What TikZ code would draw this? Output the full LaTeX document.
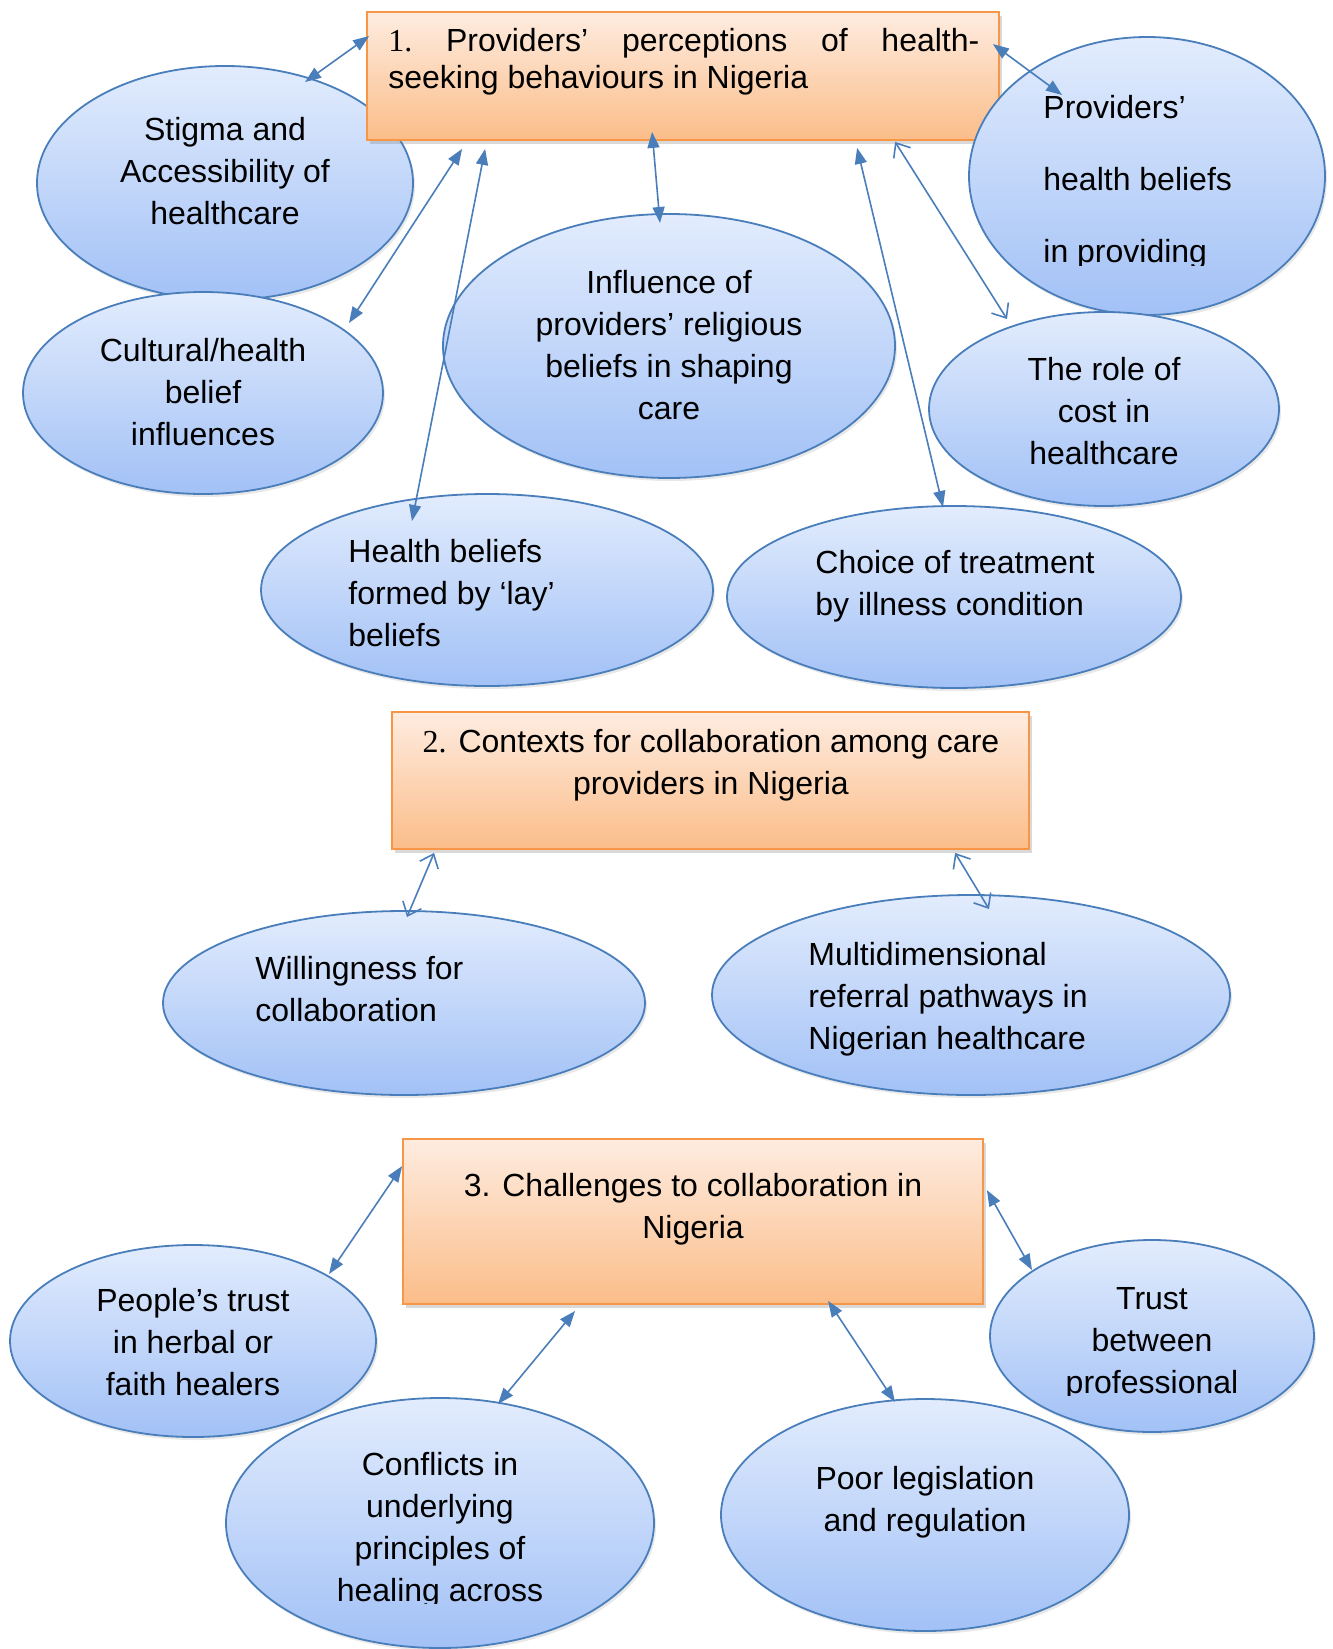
\documentclass[tikz,border=0pt]{standalone}
\usepackage{fontspec}
\setmainfont{Liberation Sans}
\newfontfamily\serifnum{Liberation Serif}
\usetikzlibrary{shapes.geometric,arrows.meta,calc,shadows}
\definecolor{ellline}{HTML}{4A7EBB}
\definecolor{elltop}{HTML}{E2ECFD}
\definecolor{ellbot}{HTML}{A2C1F6}
\definecolor{boxline}{HTML}{F79646}
\definecolor{boxtop}{HTML}{FEECE0}
\definecolor{boxbot}{HTML}{FBBD89}
\definecolor{arr}{HTML}{4A7EBB}
\begin{document}
\begin{tikzpicture}[x=0.5pt,y=-0.5pt,
  ell/.style={ellipse, draw=ellline, line width=0.9pt, top color=elltop, bottom color=ellbot, inner sep=0pt,
    drop shadow={opacity=0.18, shadow xshift=1pt, shadow yshift=-1.5pt}},
  bx/.style={rectangle, draw=boxline, line width=0.9pt, top color=boxtop, bottom color=boxbot, inner sep=0pt,
    drop shadow={opacity=0.3, shadow xshift=1.5pt, shadow yshift=-2pt}},
  txt/.style={font=\fontsize{16}{21}\selectfont, inner sep=0pt},
  ctxt/.style={txt, align=center, anchor=base},
  ltxt/.style={txt, align=left, anchor=base west},
  dblf/.style={draw=arr, line width=0.8pt, {Triangle[length=8pt,width=6pt]}-{Triangle[length=8pt,width=6pt]}},
  dblo/.style={draw=arr, line width=0.8pt, {Straight Barb[length=6pt,width=10pt]}-{Straight Barb[length=6pt,width=10pt]}},
]
\useasboundingbox (0,0) rectangle (1333,1649);

% (text nodes are anchored at the baseline of their last line)
% ---------- group 1 ----------
\node[ell, minimum width=188pt, minimum height=117pt] (stigma) at (225,183) {};
\node[ctxt] (tstigma) at (225,224) {Stigma and\\Accessibility of\\healthcare};

\node[bx, minimum width=316pt, minimum height=64pt] (b1) at (683,76) {};
\node[ltxt, font=\fontsize{16}{18.5}\selectfont] (tb1) at (388,88)
  {\makebox[295.5pt]{{\serifnum 1.}\hfill Providers’\hfill perceptions\hfill of\hfill health-}\\seeking behaviours in Nigeria};

\node[ell, minimum width=178pt, minimum height=139pt] (prov) at (1147,176) {};
\begin{scope}
  \clip (1000,60) rectangle (1320,265);
  \node[ltxt, font=\fontsize{16}{36}\selectfont] (tprov) at (1043,262) {Providers’\\health beliefs\\in providing};
\end{scope}

\node[ell, minimum width=180pt, minimum height=101pt] (cult) at (203,393) {};
\node[ctxt] (tcult) at (203,445) {Cultural/health\\belief\\influences};

\node[ell, minimum width=226pt, minimum height=132pt] (infl) at (669,346) {};
\node[ctxt] (tinfl) at (669,419) {Influence of\\providers’ religious\\beliefs in shaping\\care};

\node[ell, minimum width=175pt, minimum height=97pt] (cost) at (1104,409) {};
\node[ctxt] (tcost) at (1104,464) {The role of\\cost in\\healthcare};

\node[ell, minimum width=226pt, minimum height=96pt] (lay) at (487,590) {};
\begin{scope}
  \clip (300,500) rectangle (700,648);
  \node[ltxt] (tlay) at (348,646) {Health beliefs\\formed by ‘lay’\\beliefs};
\end{scope}

\node[ell, minimum width=227pt, minimum height=91pt] (choice) at (954,597) {};
\node[ltxt] (tchoice) at (815,615) {Choice of treatment\\by illness condition};

% ---------- group 2 ----------
\node[bx, minimum width=318.5pt, minimum height=68.5pt] (b2) at (710.5,780.5) {};
\node[ctxt] (tb2) at (711,794) {{\serifnum 2.} Contexts for collaboration among care\\providers in Nigeria};

\node[ell, minimum width=241pt, minimum height=92pt] (will) at (404,1003) {};
\node[ltxt] (twill) at (255,1021) {Willingness for\\collaboration};

\node[ell, minimum width=259pt, minimum height=100pt] (multi) at (971,995) {};
\node[ltxt] (tmulti) at (808,1049) {Multidimensional\\referral pathways in\\Nigerian healthcare};

% ---------- group 3 ----------
\node[bx, minimum width=290pt, minimum height=82.5pt] (b3) at (693,1221.5) {};
\node[ctxt] (tb3) at (693,1238) {3. Challenges to collaboration in\\Nigeria};

\node[ell, minimum width=183pt, minimum height=96pt] (people) at (193,1341) {};
\node[ctxt] (tpeople) at (193,1395) {People’s trust\\in herbal or\\faith healers};

\node[ell, minimum width=162pt, minimum height=96pt] (trust) at (1152,1336) {};
\begin{scope}
  \clip (1000,1260) rectangle (1310,1395);
  \node[ctxt] (ttrust) at (1152,1393) {Trust\\between\\professional};
\end{scope}

\node[ell, minimum width=214pt, minimum height=125pt] (confl) at (440,1523) {};
\begin{scope}
  \clip (240,1420) rectangle (650,1603);
  \node[ctxt] (tconfl) at (440,1601) {Conflicts in\\underlying\\principles of\\healing across};
\end{scope}

\node[ell, minimum width=204pt, minimum height=116pt] (poor) at (925,1515) {};
\node[ctxt] (tpoor) at (925,1531) {Poor legislation\\and regulation};

% ---------- connectors ----------
\draw[dblf] ($(stigma.center)+(80,-101)$) -- ($(b1.north west)+(3,25)$);
\draw[dblf] ($(b1.north east)+(-7,33)$) -- ($(prov.center)+(-85,-81)$);
\draw[dblf] ($(cult.center)+(146,-70)$) -- ($(b1.south west)+(96,8)$);
\draw[dblf] ($(lay.center)+(-75,-69)$) -- ($(b1.south west)+(119,8)$);
\draw[dblf] ($(infl.center)+(-9,-123)$) -- ($(b1.south west)+(286,-9)$);
\draw[dblf] ($(choice.center)+(-11,-90)$) -- ($(b1.south west)+(491,7)$);
\draw[dblo] ($(cost.center)+(-97,-90)$) -- ($(b1.south west)+(529,1)$);

\draw[dblo] ($(b2.south west)+(43,3)$) -- ($(will.center)+(3,-86)$);
\draw[dblo] ($(b2.south west)+(564,3)$) -- ($(multi.center)+(18,-86)$);

\draw[dblf] ($(b3.north west)+(0,28)$) -- ($(people.center)+(136,-67)$);
\draw[dblf] ($(b3.north east)+(3,52)$) -- ($(trust.center)+(-120,-66)$);
\draw[dblf] ($(b3.south west)+(173,6)$) -- ($(confl.center)+(58,-119)$);
\draw[dblf] ($(b3.south west)+(426,-4)$) -- ($(poor.center)+(-30,-113)$);
\end{tikzpicture}
\end{document}
